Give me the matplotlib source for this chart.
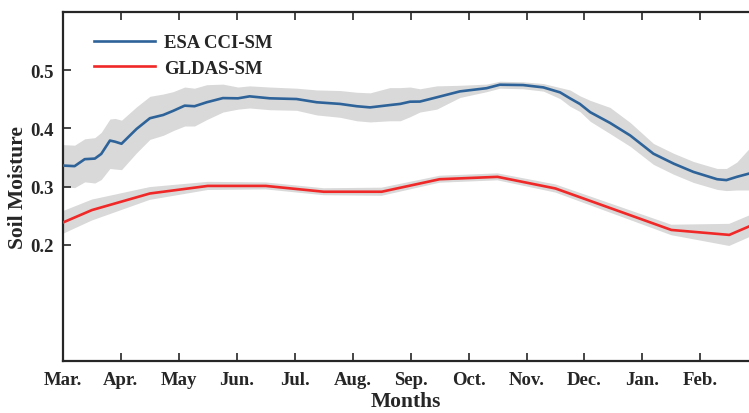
import matplotlib
matplotlib.use('Agg')
import matplotlib.pyplot as plt
import numpy as np

months = ['Mar.', 'Apr.', 'May', 'Jun.', 'Jul.', 'Aug.', 'Sep.', 'Oct.', 'Nov.', 'Dec.', 'Jan.', 'Feb.']

# ESA CCI-SM (x in months since 1 Mar), mean and shaded range
esa_x = [0.0, 0.2, 0.375, 0.55, 0.66, 0.81, 0.9, 1.01, 1.27, 1.5, 1.73, 1.9, 2.1, 2.27, 2.48,
         2.76, 3.02, 3.22, 3.57, 4.03, 4.38, 4.78, 5.07, 5.3, 5.64, 5.82, 5.99, 6.16, 6.45, 6.85,
         7.31, 7.54, 7.94, 8.29, 8.58, 8.75, 8.92, 9.1, 9.44, 9.79, 10.19, 10.54, 10.88, 11.29,
         11.45, 11.63, 11.84]
esa_mean = [0.336, 0.335, 0.347, 0.348, 0.356, 0.379, 0.377, 0.3735, 0.399, 0.4174, 0.423, 0.430,
            0.439, 0.438, 0.4448, 0.452, 0.4516, 0.455, 0.4516, 0.4504, 0.4448, 0.442, 0.438, 0.436,
            0.440, 0.442, 0.4458, 0.446, 0.4533, 0.4635, 0.469, 0.475, 0.4744, 0.4704, 0.4618,
            0.4516, 0.442, 0.4277, 0.4094, 0.3877, 0.3564, 0.3393, 0.3251, 0.3125, 0.311, 0.3166,
            0.3222]
esa_hi = [0.372, 0.371, 0.382, 0.384, 0.393, 0.416, 0.417, 0.414, 0.437, 0.455, 0.459, 0.463,
          0.471, 0.469, 0.475, 0.476, 0.471, 0.473, 0.471, 0.469, 0.466, 0.465, 0.462, 0.461,
          0.470, 0.470, 0.471, 0.468, 0.473, 0.474, 0.476, 0.481, 0.480, 0.477, 0.470,
          0.466, 0.456, 0.448, 0.436, 0.410, 0.374, 0.357, 0.343, 0.331, 0.331, 0.342,
          0.365]
esa_lo = [0.300, 0.298, 0.308, 0.306, 0.312, 0.331, 0.330, 0.329, 0.358, 0.381, 0.388, 0.396,
          0.404, 0.404, 0.415, 0.428, 0.433, 0.435, 0.432, 0.431, 0.423, 0.419, 0.413, 0.411,
          0.413, 0.413, 0.420, 0.428, 0.433, 0.453, 0.463, 0.469, 0.468, 0.464, 0.451,
          0.438, 0.429, 0.412, 0.391, 0.369, 0.338, 0.321, 0.307, 0.295, 0.293, 0.294,
          0.294]

# GLDAS-SM monthly values (mid-month), wrapped Feb -> Mar at both ends
gldas_x = [-0.5, 0.5, 1.5, 2.5, 3.5, 4.5, 5.5, 6.5, 7.5, 8.5, 9.5, 10.5, 11.5, 12.5]
gldas_mean = [0.2168, 0.2595, 0.288, 0.301, 0.301, 0.291, 0.291, 0.3125, 0.3166, 0.2966, 0.261,
              0.2253, 0.2168, 0.2595]
gldas_sd = [0.021, 0.018, 0.011, 0.007, 0.006, 0.006, 0.007, 0.006, 0.006, 0.007, 0.008,
            0.009, 0.019, 0.018]

ink = '#262626'
plt.rcParams['font.family'] = 'Liberation Serif'
plt.rcParams['font.weight'] = 'bold'

fig = plt.figure(figsize=(7.49, 4.14), dpi=100)
ax = fig.add_axes([0.0841, 0.1256, 0.9159, 0.843])

ax.fill_between(esa_x, esa_lo, esa_hi, color='#d9d9d9', linewidth=0, zorder=1)
g_lo = np.array(gldas_mean) - np.array(gldas_sd)
g_hi = np.array(gldas_mean) + np.array(gldas_sd)
ax.fill_between(gldas_x, g_lo, g_hi, color='#d9d9d9', linewidth=0, zorder=1)

ax.plot(esa_x, esa_mean, color='#2e6399', lw=1.9, label='ESA CCI-SM', zorder=3)
ax.plot(gldas_x, gldas_mean, color='#f02828', lw=1.9, label='GLDAS-SM', zorder=3)

ax.set_xlim(0, 11.84)
ax.set_ylim(0, 0.6)
ax.set_xticks(range(12))
ax.set_xticklabels(months)
ax.set_yticks([0.2, 0.3, 0.4, 0.5])
ax.set_yticklabels(['0.2', '0.3', '0.4', '0.5'])

ax.tick_params(direction='in', length=6, width=1.2, colors=ink, labelsize=13.5,
               top=True, right=False, pad=7)
for s in ['left', 'bottom', 'top']:
    ax.spines[s].set_linewidth(1.6)
    ax.spines[s].set_color(ink)
ax.spines['right'].set_visible(False)

ax.set_xlabel('Months', fontsize=15.5, fontweight='bold', color=ink, labelpad=2)
ax.set_ylabel('Soil Moisture', fontsize=15.5, fontweight='bold', color=ink, labelpad=1)

leg = ax.legend(loc='upper left', bbox_to_anchor=(0.02, 0.985), frameon=False,
                fontsize=13.5, handlelength=3.3, handletextpad=0.45, labelspacing=0.45)
for t in leg.get_texts():
    t.set_color(ink)

fig.savefig('out.png', dpi=100)
